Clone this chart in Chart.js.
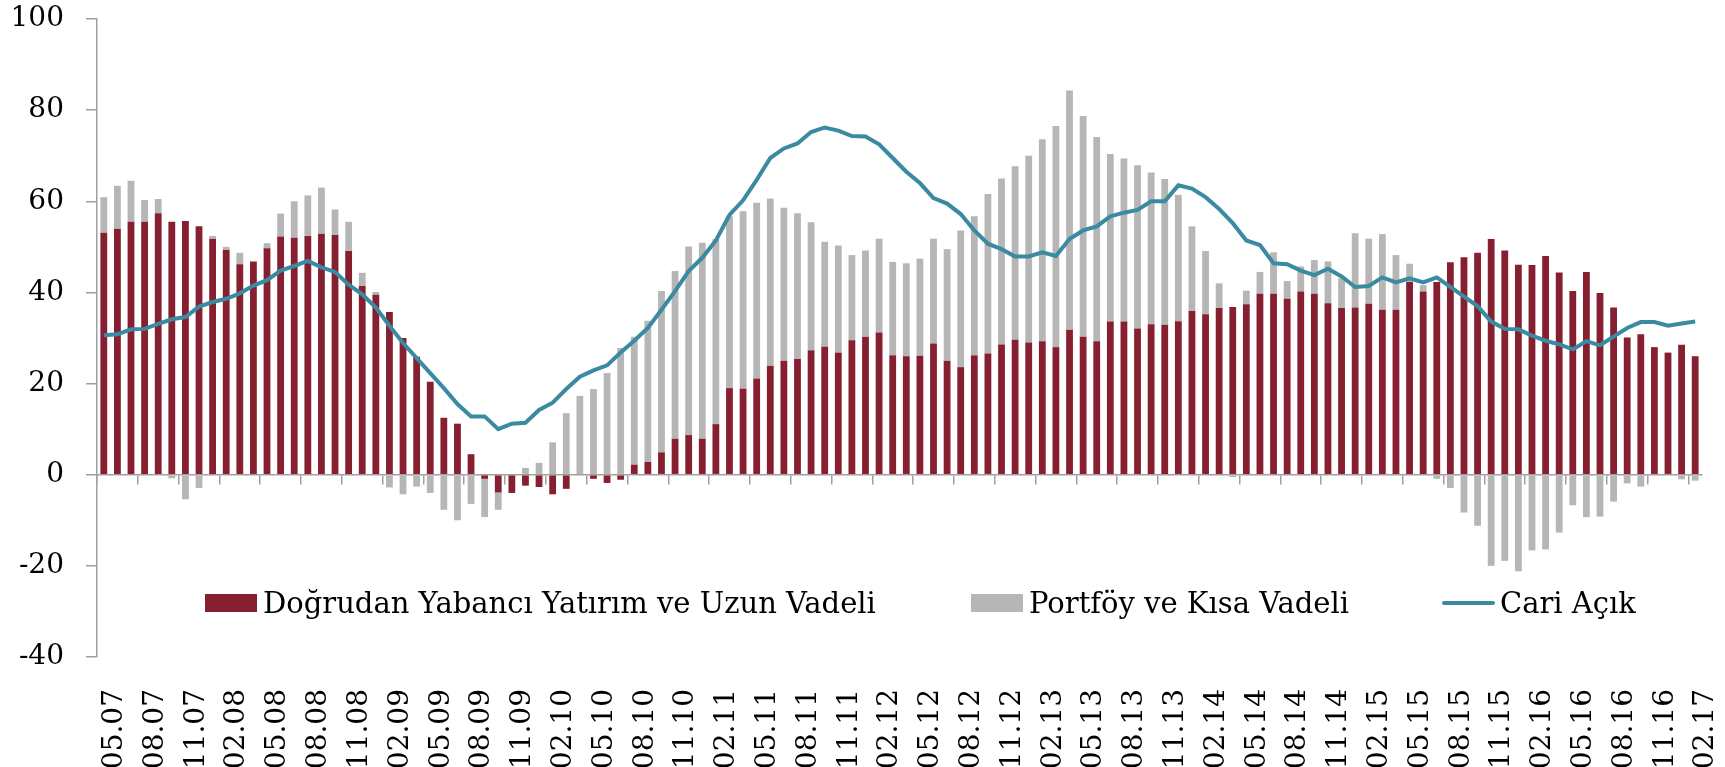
<!DOCTYPE html>
<html>
<head>
<meta charset="utf-8">
<script src="https://cdn.jsdelivr.net/npm/chart.js@4"></script>
<style>
  html, body { margin: 0; padding: 0; background: #fff; }
  #wrap { position: relative; width: 1725px; height: 767px; overflow: hidden; }
  #legend { position: absolute; left: 0; top: 0; width: 100%; height: 100%; pointer-events: none;
    font-family: "DejaVu Serif", serif; font-size: 29px; color: #000; }
  .item { position: absolute; top: 585px; height: 36px; display: flex; align-items: center; white-space: nowrap; }
  .box { width: 52px; height: 18px; margin-right: 6px; }
  .ln { width: 53px; height: 4px; border-radius: 2px; margin-right: 5px; }
</style>
</head>
<body>
<div id="wrap">
  <canvas id="chart" width="1725" height="767"></canvas>
  <div id="legend"></div>
</div>
<script>
// Series names
const nameFdi = 'Doğrudan Yabancı Yatırım ve Uzun Vadeli';
const namePortfolio = 'Portföy ve Kısa Vadeli';
const nameDeficit = 'Cari Açık';

// Doğrudan Yabancı Yatırım ve Uzun Vadeli (05.07 - 02.17, monthly)
const fdi = [
  53.1, 54.0, 55.5, 55.5, 57.4, 55.5, 55.7, 54.5, 51.8, 49.3, 46.2, 46.8, 49.7, 52.3, 52.0, 52.4, 52.9, 52.6, 49.1, 41.4,
  39.5, 35.7, 30.0, 25.9, 20.4, 12.5, 11.2, 4.5, -0.9, -3.9, -4.0, -2.4, -2.7, -4.3, -3.1, 0, -0.9, -1.8, -1.1, 2.2, 2.8, 4.9,
  7.9, 8.7, 7.9, 11.1, 19.0, 18.9, 21.1, 23.9, 25.0, 25.4, 27.3, 28.1, 26.8, 29.5, 30.3, 31.2, 26.2, 26.0, 26.1, 28.8, 25.0,
  23.6, 26.2, 26.6, 28.6, 29.6, 29.0, 29.3, 28.0, 31.8, 30.3, 29.3, 33.6, 33.6, 32.1, 33.0, 32.9, 33.7, 35.9, 35.2, 36.6, 36.8,
  37.4, 39.7, 39.7, 38.6, 40.2, 39.7, 37.6, 36.6, 36.7, 37.5, 36.2, 36.2, 42.3, 40.2, 42.3, 46.6, 47.7, 48.7, 51.7, 49.2, 46.1, 46.0,
  48.0, 44.4, 40.3, 44.5, 39.9, 36.7, 30.1, 30.8, 28.0, 26.8, 28.5, 26.0
];

// Portföy ve Kısa Vadeli
const portfolio = [
  7.8, 9.4, 9.0, 4.8, 3.1, -0.8, -5.4, -2.9, 0.6, 0.7, 2.5, -0.2, 1.1, 5.0, 8.0, 8.9, 10.1, 5.6, 6.4, 2.9,
  0.6, -2.8, -4.3, -2.6, -4.0, -7.7, -10.0, -6.4, -8.4, -3.8, 0, 1.5, 2.6, 7.1, 13.5, 17.3, 18.8, 22.3, 27.8, 28.1, 31.0, 35.4,
  36.8, 41.4, 43.0, 40.6, 37.7, 38.9, 38.6, 36.7, 33.6, 32.0, 28.1, 23.0, 23.5, 18.7, 18.9, 20.6, 20.5, 20.4, 21.3, 23.0, 24.5,
  30.0, 30.5, 35.0, 36.4, 38.1, 41.0, 44.3, 48.5, 52.5, 48.4, 44.8, 36.8, 35.8, 35.8, 33.3, 32.0, 27.7, 18.6, 13.9, 5.4, -0.5,
  3.0, 4.8, 9.1, 3.9, 5.5, 7.4, 9.2, 6.5, 16.3, 14.3, 16.6, 12.0, 4.0, 1.4, -0.9, -2.9, -8.3, -11.2, -20.0, -18.9, -21.2, -16.6,
  -16.4, -12.7, -6.7, -9.3, -9.2, -5.9, -1.9, -2.6, 0, 0, -1.0, -1.3
];

// Cari Açık
const deficit = [
  30.6, 30.8, 31.9, 32.0, 33.1, 34.1, 34.6, 36.9, 37.9, 38.6, 39.8, 41.5, 42.7, 44.8, 45.8, 46.9, 45.5, 44.5, 41.7, 39.6,
  36.7, 32.7, 28.9, 25.6, 22.3, 19.0, 15.5, 12.8, 12.8, 10.0, 11.2, 11.4, 14.2, 15.8, 18.8, 21.5, 22.9, 24.0, 26.8, 29.4, 32.2, 36.2,
  40.3, 44.7, 47.6, 51.4, 57.0, 60.2, 64.7, 69.5, 71.6, 72.7, 75.2, 76.2, 75.5, 74.3, 74.2, 72.5, 69.5, 66.5, 64.0, 60.7, 59.5,
  57.2, 53.6, 50.7, 49.5, 47.9, 47.9, 48.8, 48.0, 51.7, 53.6, 54.5, 56.7, 57.5, 58.1, 60.0, 60.0, 63.5, 62.8, 60.9, 58.3, 55.2,
  51.4, 50.4, 46.4, 46.2, 44.8, 43.8, 45.2, 43.5, 41.2, 41.4, 43.3, 42.2, 43.1, 42.2, 43.3, 41.2, 39.1, 37.0, 33.6, 32.0, 31.9, 30.5,
  29.4, 28.6, 27.5, 29.3, 28.4, 30.3, 32.2, 33.5, 33.5, 32.7, 33.2, 33.6
];

// Month labels MM.YY, starting 05.07; every third one is shown on the axis
const firstMonth = 5;
const firstYear = 7;
const labelStep = 3;
const months = [];
for (let i = 0; i < fdi.length; i++) {
  const m = (firstMonth - 1 + i) % 12 + 1;
  const y = firstYear + Math.floor((firstMonth - 1 + i) / 12);
  months.push(String(m).padStart(2, '0') + '.' + String(y).padStart(2, '0'));
}

const yMin = -40;
const yMax = 100;
const yStep = 20;

const colors = {
  fdi: '#861f2f',
  portfolio: '#b6b6b6',
  deficit: '#3a8aa2',
  axis: '#a0a0a0'
};

const fontFamily = '"DejaVu Serif", serif';

new Chart(document.getElementById('chart'), {
  type: 'bar',
  data: {
    labels: months,
    datasets: [{
      type: 'line',
      label: nameDeficit,
      data: deficit,
      borderColor: colors.deficit,
      borderWidth: 4,
      pointRadius: 0,
      tension: 0,
      stack: 'line',
      order: 0
    }, {
      label: nameFdi,
      data: fdi,
      backgroundColor: colors.fdi,
      stack: 'flows',
      order: 1,
      barPercentage: 0.5,
      categoryPercentage: 1.0
    }, {
      label: namePortfolio,
      data: portfolio,
      backgroundColor: colors.portfolio,
      stack: 'flows',
      order: 1,
      barPercentage: 0.5,
      categoryPercentage: 1.0
    }]
  },
  options: {
    responsive: false,
    animation: false,
    layout: { padding: { top: 19, right: 23, left: 0, bottom: 0 } },
    plugins: {
      legend: { display: false },
      tooltip: { enabled: false }
    },
    scales: {
      x: {
        stacked: true,
        grid: { display: false, drawTicks: false },
        border: { display: false },
        ticks: {
          autoSkip: false,
          minRotation: 90,
          maxRotation: 90,
          padding: 32,
          labelOffset: 11,
          color: '#000',
          font: { family: fontFamily, size: 28 },
          callback: function(value, index) {
            return index % labelStep === 0 ? months[index] : '';
          }
        },
        afterFit: function(scale) {
          scale.height = 110;
          scale.paddingLeft = 0;
          scale.paddingRight = 0;
        }
      },
      x2: {
        type: 'category',
        labels: months,
        position: { y: 0 },
        offset: true,
        grid: {
          offset: true,
          drawOnChartArea: false,
          drawTicks: true,
          tickLength: 9,
          lineWidth: 1.5,
          color: function(ctx) {
            return ctx.index % labelStep === 0 ? colors.axis : 'rgba(0,0,0,0)';
          }
        },
        border: { display: true, color: colors.axis, width: 1.5 },
        ticks: { display: false, autoSkip: false },
        afterFit: function(scale) {
          scale.paddingLeft = 0;
          scale.paddingRight = 0;
        }
      },
      y: {
        stacked: true,
        min: yMin,
        max: yMax,
        grid: {
          drawOnChartArea: false,
          drawTicks: true,
          tickLength: 11,
          lineWidth: 1.5,
          color: colors.axis
        },
        border: { display: true, color: colors.axis, width: 1.5 },
        ticks: {
          stepSize: yStep,
          padding: 22,
          color: '#000',
          font: { family: fontFamily, size: 28 }
        },
        afterFit: function(scale) {
          scale.width = 97;
          scale.paddingTop = 0;
          scale.paddingBottom = 0;
        }
      }
    }
  }
});

// Legend drawn as HTML over the lower part of the plot
const legendItems = [
  { label: nameFdi, color: colors.fdi, kind: 'box', left: 205 },
  { label: namePortfolio, color: colors.portfolio, kind: 'box', left: 971 },
  { label: nameDeficit, color: colors.deficit, kind: 'ln', left: 1442 }
];
const legend = document.getElementById('legend');
legendItems.forEach(function(it) {
  const el = document.createElement('div');
  el.className = 'item';
  el.style.left = it.left + 'px';
  const sw = document.createElement('span');
  sw.className = it.kind;
  sw.style.background = it.color;
  const tx = document.createElement('span');
  tx.textContent = it.label;
  el.appendChild(sw);
  el.appendChild(tx);
  legend.appendChild(el);
});
</script>
</body>
</html>
